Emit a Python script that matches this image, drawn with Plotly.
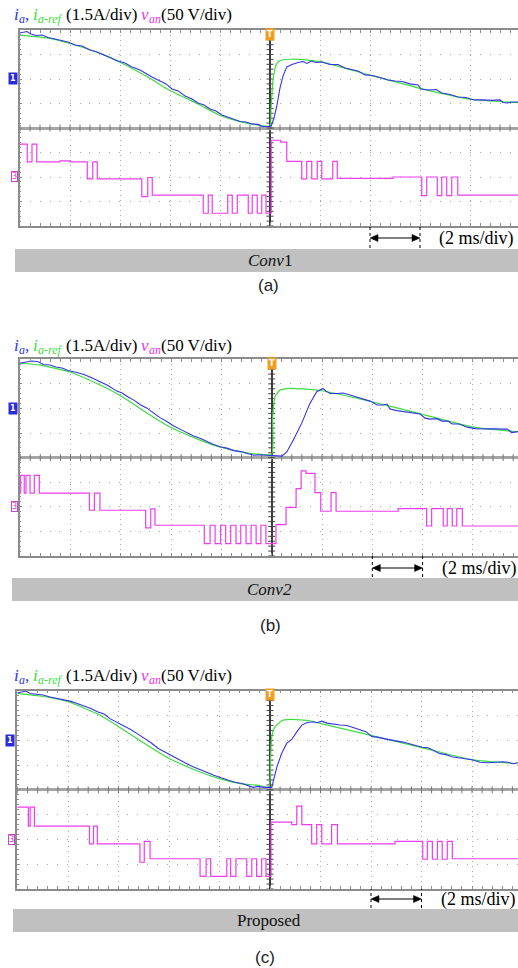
import numpy as np
import plotly.graph_objects as go

# ===================== DATA (time in ms relative to trigger; current in A; voltage in V) =====================
# ---- (a) Conv1 ----
a_ref_t = [-10.02, -8.8, -8.04, -6.8, -6.04, -4.8, -4.04, -2.8, -2.04, -1.2, -0.48, 0.0, 0.04, 0.12, 0.27, 0.48, 0.8, 1.32, 2.0, 4.0, 6.0, 8.0, 9.92]
a_ref_i = [2.69, 2.49, 2.19, 1.57, 1.06, 0.04, -0.67, -1.59, -2.20, -2.61, -2.82, -2.88, -1.90, -0.06, 0.96, 1.16, 1.21, 1.19, 1.06, 0.24, -0.57, -1.24, -1.45]
a_ia_t = [-10.02, -9.84, -9.72, -9.56, -9.36, -9.12, -8.88, -8.6, -8.32, -8.08, -7.8, -7.52, -7.2, -6.92, -6.64, -6.4, -6.08, -5.8, -5.52, -5.2,
          -4.96, -4.72, -4.4, -4.16, -3.92, -3.68, -3.4, -3.12, -2.88, -2.64, -2.4, -2.16, -1.92, -1.68, -1.44, -1.2, -0.96, -0.72, -0.48, -0.32,
          -0.16, 0.04, 0.16, 0.28, 0.4, 0.52, 0.67, 0.88, 1.12, 1.32, 1.48, 1.64, 1.84, 2.08, 2.4, 2.72, 3.0, 3.28, 3.52, 3.8,
          4.08, 4.4, 4.72, 5.0, 5.28, 5.6, 5.92, 6.04, 6.32, 6.64, 6.88, 7.2, 7.52, 7.84, 8.16, 8.48, 8.88, 9.2, 9.32, 9.48, 9.68, 9.92]
a_ia_i = [2.82, 2.88, 2.91, 2.76, 2.66, 2.69, 2.54, 2.45, 2.33, 2.27, 2.08, 2.02, 1.78, 1.65, 1.47, 1.32, 1.10, 0.98, 0.74, 0.55,
          0.31, 0.12, -0.12, -0.30, -0.61, -0.73, -1.04, -1.22, -1.47, -1.59, -1.84, -1.96, -2.20, -2.32, -2.45, -2.60, -2.63, -2.75, -2.78, -2.91,
          -2.91, -2.91, -2.39, -1.59, -0.55, 0.18, 0.74, 0.89, 1.01, 1.07, 0.95, 1.10, 1.01, 1.04, 0.89, 0.89, 0.67, 0.55, 0.49, 0.25,
          0.21, 0.09, -0.06, -0.12, -0.15, -0.30, -0.37, -0.61, -0.67, -0.64, -0.86, -0.95, -1.10, -1.13, -1.28, -1.28, -1.31, -1.28, -1.44, -1.47, -1.41, -1.41]
a_van_t = [-10.02, -9.71, -9.52, -9.33, -8.4, -8.0, -7.31, -7.09, -6.91, -5.13, -4.89, -4.71, -2.67, -2.47, -2.31, -1.69, -1.51, -1.31, -0.87, -0.71,
           -0.51, -0.33, -0.16, 0.05, 0.43, 0.67, 1.27, 1.47, 1.67, 1.89, 2.07, 2.51, 2.69, 4.92, 6.07, 6.27, 6.69, 6.87, 7.07, 7.27, 7.51, 9.92]
a_van_v = [67, 31, 67, 31, 33, 31, -4, 31, -4, -40, -1, -37, -74, -37, -74, -37, -74, -37, -74, -37,
           -74, -37, -74, 75, 71, 32, -4, 32, -4, 32, -4, 32, -3, 0, -38, 0, -38, 0, -38, 0, -37, -37]

# ---- (b) Conv2 ----
b_ref_t = [-10.04, -9.21, -8.05, -6.83, -6.06, -4.84, -4.07, -2.85, -2.08, -0.99, -0.53, 0.0, 0.04, 0.13, 0.33, 0.73, 1.26, 1.99, 3.98, 5.96, 7.95, 8.81, 9.74]
b_ref_i = [2.76, 2.65, 2.24, 1.43, 0.82, -0.40, -1.12, -1.93, -2.34, -2.71, -2.79, -2.80, -0.51, 0.72, 1.12, 1.23, 1.19, 1.08, 0.41, -0.34, -1.12, -1.28, -1.42]
b_ia_t = [-10.04, -9.77, -9.53, -9.28, -9.09, -8.82, -8.58, -8.34, -8.10, -7.75, -7.46, -7.14, -6.83, -6.51, -6.16, -5.95, -5.71, -5.48, -5.24, -4.96,
          -4.72, -4.44, -4.17, -3.93, -3.65, -3.41, -3.13, -2.85, -2.61, -2.33, -2.05, -1.78, -1.50, -1.22, -0.94, -0.70, -0.47, -0.23, 0.0,
          0.17, 0.40, 0.60, 0.86, 1.19, 1.52, 1.79, 1.92, 2.04, 2.16, 2.32, 2.60, 2.83, 3.11, 3.39, 3.67, 3.91, 4.19, 4.43, 4.59,
          4.70, 4.98, 5.26, 5.58, 5.90, 6.10, 6.29, 6.57, 6.77, 7.01, 7.17, 7.45, 7.77, 8.08, 8.40, 8.76, 9.08, 9.36, 9.55, 9.79]
b_ia_i = [2.76, 2.83, 2.90, 2.85, 2.68, 2.65, 2.53, 2.47, 2.32, 2.19, 2.07, 1.86, 1.63, 1.40, 1.06, 0.94, 0.70, 0.51, 0.24, 0.02,
          -0.25, -0.56, -0.80, -1.04, -1.26, -1.44, -1.66, -1.81, -1.99, -2.18, -2.33, -2.42, -2.57, -2.63, -2.76, -2.85, -2.82, -2.85, -2.88,
          -2.91, -2.91, -2.65, -1.93, -0.91, 0.31, 1.02, 1.12, 1.22, 1.06, 0.91, 0.91, 0.94, 0.82, 0.70, 0.60, 0.45, 0.21, 0.21, 0.27,
          -0.04, -0.13, -0.19, -0.25, -0.34, -0.59, -0.65, -0.62, -0.77, -0.77, -0.95, -0.95, -1.14, -1.23, -1.23, -1.26, -1.23, -1.26, -1.47, -1.41]
b_van_t = [-10.03, -9.98, -9.84, -9.77, -9.61, -9.44, -9.24, -7.25, -7.05, -6.83, -5.01, -4.81, -4.64, -2.68, -2.45, -2.25, -2.03, -1.83, -1.63, -1.42,
           -1.23, -1.02, -0.82, -0.62, -0.43, -0.23, 0.17, 0.57, 0.97, 1.17, 1.36, 1.72, 1.95, 2.36, 2.56, 5.03, 6.16, 6.36, 6.82, 6.98,
           7.18, 7.36, 7.58, 9.79]
b_van_v = [28, 64, 28, 64, 28, 64, 28, -7, 28, -7, -43, -4, -37.5, -75, -37.5, -75, -37.5, -75, -37.5, -75,
           -37.5, -75, -37.5, -75, -37.5, -75, -36, -1, 37, 73, 68, 29, -9, 29, -9, -3.5, -39, -3.5, -39, -3.5,
           -39, -3.5, -39, -39]

# ---- (c) Proposed ----
c_ref_t = [-10.01, -9.11, -7.99, -6.73, -5.98, -4.75, -3.99, -2.77, -2.01, -1.19, -0.46, -0.04, 0.02, 0.07, 0.2, 0.46, 0.79, 1.58, 1.98, 3.96, 6.01, 7.99, 8.84, 9.77]
c_ref_i = [2.84, 2.68, 2.33, 1.52, 0.81, -0.40, -1.10, -1.92, -2.32, -2.62, -2.73, -2.83, -1.21, 0.21, 0.81, 1.18, 1.26, 1.18, 1.02, 0.31, -0.44, -1.17, -1.31, -1.41]
c_ia_t = [-10.01, -9.82, -9.66, -9.50, -9.27, -8.99, -8.71, -8.44, -8.16, -7.92, -7.64, -7.37, -7.09, -6.81, -6.57, -6.34, -6.06, -5.78, -5.50, -5.23,
          -4.95, -4.71, -4.44, -4.16, -3.88, -3.60, -3.33, -3.05, -2.77, -2.50, -2.22, -1.94, -1.66, -1.39, -1.11, -0.87, -0.67, -0.48, -0.24, 0.0,
          0.07, 0.27, 0.46, 0.66, 0.86, 1.06, 1.26, 1.45, 1.71, 1.85, 2.05, 2.26, 2.50, 2.77, 3.05, 3.29, 3.56, 3.80, 4.04, 4.24,
          4.51, 4.75, 5.03, 5.27, 5.54, 5.78, 6.02, 6.26, 6.50, 6.73, 6.97, 7.21, 7.45, 7.72, 8.00, 8.32, 8.63, 8.95, 9.23, 9.43, 9.62, 9.82]
c_ia_i = [2.86, 2.95, 2.98, 2.83, 2.80, 2.74, 2.62, 2.53, 2.43, 2.37, 2.22, 2.07, 1.92, 1.71, 1.59, 1.31, 1.10, 0.86, 0.64, 0.37,
          0.10, -0.15, -0.48, -0.72, -0.97, -1.18, -1.39, -1.60, -1.79, -1.97, -2.12, -2.27, -2.39, -2.54, -2.61, -2.76, -2.85, -2.79, -2.85, -2.85,
          -2.85, -1.62, -0.80, -0.19, 0.05, 0.51, 0.92, 1.06, 1.12, 1.06, 1.16, 1.04, 0.98, 0.92, 0.89, 0.77, 0.64, 0.52, 0.22, 0.19,
          0.10, 0.01, -0.05, -0.11, -0.21, -0.30, -0.42, -0.45, -0.66, -0.81, -0.87, -1.00, -1.06, -1.12, -1.18, -1.33, -1.36, -1.33, -1.30, -1.33, -1.42, -1.36]
c_van_t = [-10.01, -9.57, -9.5, -9.33, -7.15, -6.99, -6.84, -5.15, -4.98, -4.75, -2.77, -2.53, -2.35, -1.71, -1.56, -1.35, -0.92, -0.72, -0.53, -0.33,
           -0.16, 0.04, 0.86, 1.06, 1.26, 1.65, 1.85, 2.05, 2.44, 2.67, 4.95, 6.05, 6.23, 6.43, 6.63, 6.82, 7.02, 7.22, 9.82]
c_van_v = [65, 27, 65, 27, -9, 27, -9, -46, -4, -39, -74.5, -39, -74.5, -39, -74.5, -39, -74.5, -39, -74.5, -39,
           -74.5, 35, 30, 67, 30, -9, 30, -9, 30, -9, -4, -40, -4, -40, -4, -40, -4, -39, -39]

panel_titles = ["<i>Conv</i>1", "<i>Conv2</i>", "Proposed"]
panel_labels = ["(a)", "(b)", "(c)"]
scale_text = "(2 ms/div)"
I_PER_DIV = 1.5   # A/div
V_PER_DIV = 50.0  # V/div
MS_PER_DIV = 2.0
CH1_OFFSET_DIV = 2.0    # channel-1 ground marker (divisions above centre)
CH3_OFFSET_DIV = -2.0   # channel-3 ground marker

BLUE, GREEN, MAGENTA, BLACK = "#3030f0", "#40dd40", "#f030f0", "#000000"
# header pieces: (text, italic, colour, subscript)
header_parts = [
    ("i", True, BLUE, False), ("a", True, BLUE, True), (",", False, BLUE, False), (" ", False, BLACK, False),
    ("i", True, GREEN, False), ("a-ref", True, GREEN, True), (" ", False, BLACK, False),
    ("(1.5A/div)", False, BLACK, False), (" ", False, BLACK, False),
    ("v", True, MAGENTA, False), ("an", True, MAGENTA, True), ("(50 V/div)", False, BLACK, False),
]

data = [
    (a_ref_t, a_ref_i, a_ia_t, a_ia_i, a_van_t, a_van_v),
    (b_ref_t, b_ref_i, b_ia_t, b_ia_i, b_van_t, b_van_v),
    (c_ref_t, c_ref_i, c_ia_t, c_ia_i, c_van_t, c_van_v),
]

# ===================== LAYOUT GEOMETRY (pixels of the 518x968 page) =====================
W, H = 518, 968
geo = [
    dict(left=19.5, top=30.0, bottom=226.0, cx=270.0, pxdiv=50.0, head_y=14, arrow_y=238,
         bar_x=15, bar_y0=249, bar_y1=272, title_x=270, lab_x=268, lab_y=286, unit_x=476),
    dict(left=19.5, top=359.3, bottom=556.0, cx=271.7, pxdiv=50.3, head_y=345, arrow_y=568,
         bar_x=12, bar_y0=578, bar_y1=601, title_x=269, lab_x=270, lab_y=625, unit_x=479),
    dict(left=17.3, top=690.7, bottom=889.0, cx=270.0, pxdiv=50.5, head_y=675, arrow_y=899,
         bar_x=13, bar_y0=909, bar_y1=932, title_x=269, lab_x=265, lab_y=957, unit_x=478),
]

# Times / Liberation Serif advance widths (1/1000 em) for laying out the header pieces
ROMAN_W = {" ": 250, "(": 333, ")": 333, "1": 500, ".": 250, "5": 500, "A": 722, "/": 278,
           "d": 500, "i": 278, "v": 500, "0": 500, "V": 722, ",": 250}
ITALIC_W = {"i": 278, "a": 500, "v": 444, "n": 500, "-": 333, "r": 389, "e": 444, "f": 278}
HEAD_SIZE, SUB_SIZE, SUB_DROP = 17, 12, 5


def text_width(s, italic, size):
    tab = ITALIC_W if italic else ROMAN_W
    return sum(tab.get(ch, 500) for ch in s) * size / 1000.0


def px(x):
    return x / W


def py(y):
    return 1 - y / H


SERIF = "Liberation Serif"
GRID_C = "#a9a9a9"
FRAME_C = "#8c8c8c"

fig = go.Figure()
layout = dict(width=W, height=H, margin=dict(l=0, r=0, t=0, b=0),
              paper_bgcolor="white", plot_bgcolor="white", showlegend=False)
annotations, shapes = [], []

for k, (g, d) in enumerate(zip(geo, data)):
    ref_t, ref_i, ia_t, ia_i, van_t, van_v = d
    xn = "" if k == 0 else str(k + 1)
    xid = "x" + xn
    ng, nc, nv = 3 * k + 1, 3 * k + 2, 3 * k + 3
    yg = "y" if ng == 1 else f"y{ng}"
    yc, yv = f"y{nc}", f"y{nv}"
    x0 = (g["left"] - g["cx"]) / g["pxdiv"] * MS_PER_DIV
    x1 = (W - g["cx"]) / g["pxdiv"] * MS_PER_DIV
    ydom = [py(g["bottom"]), py(g["top"])]

    layout["xaxis" + xn] = dict(
        domain=[px(g["left"]), 1], range=[x0, x1], anchor=yg,
        showgrid=True, gridcolor=GRID_C, griddash="1px,4px", gridwidth=1,
        tick0=0, dtick=MS_PER_DIV, showticklabels=False,
        zeroline=True, zerolinecolor="#3c3c3c", zerolinewidth=1.5,
        showline=True, linecolor=FRAME_C, linewidth=1.5, mirror="ticks",
        ticks="inside", ticklen=3, tickcolor=FRAME_C,
        minor=dict(ticks="inside", dtick=0.4, ticklen=3, tickcolor=FRAME_C, showgrid=False),
        fixedrange=True)
    layout["yaxis" + ("" if ng == 1 else str(ng))] = dict(
        domain=ydom, range=[-4, 4], anchor=xid,
        showgrid=True, gridcolor=GRID_C, griddash="1px,9px", gridwidth=1,
        dtick=1, tick0=0, showticklabels=False,
        zeroline=True, zerolinecolor="#a4a4a4", zerolinewidth=2.5,
        showline=True, linecolor=FRAME_C, linewidth=1.5, mirror=False,
        ticks="inside", ticklen=3, tickcolor=FRAME_C,
        minor=dict(ticks="inside", dtick=0.2, ticklen=2, tickcolor=FRAME_C, showgrid=False),
        fixedrange=True)
    # channel axes overlaying the graticule: same division grid, physical units
    layout[f"yaxis{nc}"] = dict(
        overlaying=yg, anchor=xid, visible=False, fixedrange=True,
        range=[(-4 - CH1_OFFSET_DIV) * I_PER_DIV, (4 - CH1_OFFSET_DIV) * I_PER_DIV])
    layout[f"yaxis{nv}"] = dict(
        overlaying=yg, anchor=xid, visible=False, fixedrange=True,
        range=[(-4 - CH3_OFFSET_DIV) * V_PER_DIV, (4 - CH3_OFFSET_DIV) * V_PER_DIV])

    # graticule ticks on the centre axes
    ht = np.arange(-10, 10.01, 0.4)
    fig.add_trace(go.Scatter(x=ht, y=np.zeros_like(ht), xaxis=xid, yaxis=yg, mode="markers",
                             marker=dict(symbol="line-ns", size=5, line=dict(width=1, color="#777777")),
                             hoverinfo="skip"))
    vt = np.arange(-4, 4.01, 0.2)
    fig.add_trace(go.Scatter(x=np.zeros_like(vt), y=vt, xaxis=xid, yaxis=yg, mode="markers",
                             marker=dict(symbol="line-ew", size=5, line=dict(width=1, color="#444444")),
                             hoverinfo="skip"))

    # channel traces
    fig.add_trace(go.Scatter(x=van_t, y=van_v, xaxis=xid, yaxis=yv, mode="lines",
                             line=dict(color="#ee3cee", width=1.2, shape="hv"), hoverinfo="skip"))
    fig.add_trace(go.Scatter(x=ref_t, y=ref_i, xaxis=xid, yaxis=yc, mode="lines",
                             line=dict(color="#3fdc3f", width=1.2, shape="spline", smoothing=0.5),
                             hoverinfo="skip"))
    fig.add_trace(go.Scatter(x=ia_t, y=ia_i, xaxis=xid, yaxis=yc, mode="lines",
                             line=dict(color="#3333ee", width=1.1), hoverinfo="skip"))

    # header, laid out piece by piece (subscripts as smaller, lowered pieces)
    cur_x = 14.0
    for txt, ital, col, sub in header_parts:
        size = SUB_SIZE if sub else HEAD_SIZE
        if txt.strip():
            annotations.append(dict(
                text=txt, x=px(cur_x), y=py(g["head_y"] + (SUB_DROP if sub else 0)),
                xref="paper", yref="paper", xanchor="left", yanchor="middle", showarrow=False,
                borderpad=0, borderwidth=0,
                font=dict(family=SERIF, size=size, color=col, style="italic" if ital else "normal")))
        cur_x += text_width(txt, ital, size)

    # channel markers
    annotations.append(dict(text="<b>1</b>", x=px(g["left"] - 2), y=CH1_OFFSET_DIV, xref="paper", yref=yg,
                            xanchor="right", yanchor="middle", showarrow=False, bgcolor="#2b2bd9",
                            borderpad=1, font=dict(family="DejaVu Sans", size=8, color="white")))
    annotations.append(dict(text="3", x=px(g["left"] - 2), y=CH3_OFFSET_DIV, xref="paper", yref=yg,
                            xanchor="right", yanchor="middle", showarrow=False, bgcolor="white",
                            bordercolor="#d040d0", borderwidth=1, borderpad=0,
                            font=dict(family="DejaVu Sans", size=8, color="#d040d0")))
    # trigger marker
    annotations.append(dict(text="<b>T</b>", x=0, y=py(g["top"] + 4), xref=xid, yref="paper",
                            xanchor="center", yanchor="middle", showarrow=False, bgcolor="#f0a020",
                            borderpad=1, font=dict(family="DejaVu Sans", size=8, color="white")))
    # time-scale arrow spanning one division (4 ms .. 6 ms), drawn with shapes
    ya = py(g["arrow_y"])
    hl = 8.0 / g["pxdiv"] * MS_PER_DIV   # arrowhead length (8 px) in ms
    hh = 3.5 / H                          # arrowhead half height in paper units
    shapes.append(dict(type="line", xref=xid, yref="paper", x0=4 + hl * 0.5, x1=6 - hl * 0.5, y0=ya, y1=ya,
                       line=dict(color="black", width=1.2)))
    shapes.append(dict(type="path", xref=xid, yref="paper",
                       path=f"M 4,{ya} L {4 + hl},{ya + hh} L {4 + hl},{ya - hh} Z",
                       fillcolor="black", line=dict(color="black", width=0.5)))
    shapes.append(dict(type="path", xref=xid, yref="paper",
                       path=f"M 6,{ya} L {6 - hl},{ya + hh} L {6 - hl},{ya - hh} Z",
                       fillcolor="black", line=dict(color="black", width=0.5)))
    for xv in (4, 6):
        shapes.append(dict(type="line", xref=xid, yref="paper", x0=xv, x1=xv,
                           y0=py(g["bar_y0"] - 1), y1=py(g["bottom"]),
                           line=dict(color="black", width=1, dash="dot")))
    annotations.append(dict(text=scale_text, x=px(g["unit_x"]), y=ya, xref="paper", yref="paper",
                            xanchor="center", yanchor="middle", showarrow=False,
                            font=dict(family=SERIF, size=18, color="black")))
    # grey caption bar
    shapes.append(dict(type="rect", xref="paper", yref="paper", x0=px(g["bar_x"]), x1=1,
                       y0=py(g["bar_y1"]), y1=py(g["bar_y0"]), fillcolor="#c0c0c0",
                       line=dict(width=0), layer="below"))
    annotations.append(dict(text=panel_titles[k], x=px(g["title_x"]), y=py((g["bar_y0"] + g["bar_y1"]) / 2),
                            xref="paper", yref="paper", xanchor="center", yanchor="middle", showarrow=False,
                            font=dict(family=SERIF, size=17, color="#111111")))
    annotations.append(dict(text=panel_labels[k], x=px(g["lab_x"]), y=py(g["lab_y"]),
                            xref="paper", yref="paper", xanchor="center", yanchor="middle", showarrow=False,
                            font=dict(family="Liberation Sans", size=17, color="#222222")))

layout["annotations"] = annotations
layout["shapes"] = shapes
fig.update_layout(**layout)
fig.write_html("out.html")
